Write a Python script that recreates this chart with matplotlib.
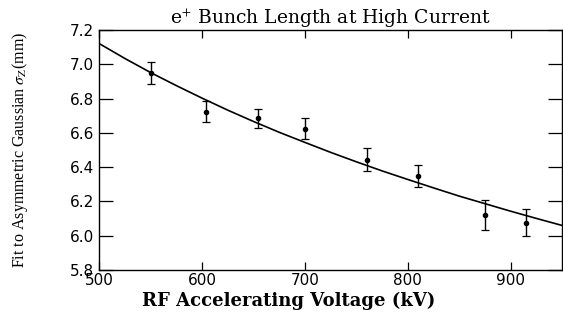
#!/usr/bin/env python3
"""e+ bunch length vs. RF accelerating voltage (high current)."""

import matplotlib
matplotlib.use("Agg")
import matplotlib.pyplot as plt

# measured points: RF voltage (kV), fitted sigma_z (mm), error (mm)
voltage_kv = [550, 604, 654, 700, 760, 810, 875, 915]
sigma_z_mm = [6.948, 6.724, 6.685, 6.624, 6.444, 6.349, 6.120, 6.077]
sigma_err = [0.065, 0.060, 0.055, 0.060, 0.068, 0.066, 0.086, 0.077]

# fit curve, every 25 kV
fit_kv = [500, 525, 550, 575, 600, 625, 650, 675, 700, 725,
          750, 775, 800, 825, 850, 875, 900, 925, 950]
fit_mm = [7.120, 7.033, 6.951, 6.875, 6.802, 6.732, 6.666, 6.603, 6.544, 6.486,
          6.431, 6.378, 6.328, 6.279, 6.231, 6.187, 6.143, 6.101, 6.060]

x_ticks = [500, 600, 700, 800, 900]
y_ticks = [5.8, 6.0, 6.2, 6.4, 6.6, 6.8, 7.0, 7.2]

plt.rcParams["mathtext.fontset"] = "stix"

fig = plt.figure(figsize=(5.63, 3.12), dpi=100)
ax = fig.add_axes([0.1767, 0.1346, 0.8216, 0.7692])

ax.plot(fit_kv, fit_mm, color="black", lw=1.2)
ax.errorbar(voltage_kv, sigma_z_mm, yerr=sigma_err, fmt="o", color="black",
            ms=3, elinewidth=1.0, capsize=3, capthick=0.9)

ax.set_xlim(500, 950)
ax.set_ylim(5.8, 7.2)
ax.set_xticks(x_ticks)
ax.set_yticks(y_ticks)
ax.set_yticklabels([f"{v:.1f}" for v in y_ticks])

ax.tick_params(axis="both", direction="in", top=True, right=True,
               labelsize=11, width=0.9, pad=4)
ax.tick_params(axis="x", length=6, pad=2)
ax.tick_params(axis="y", length=10)
for lab in ax.get_xticklabels() + ax.get_yticklabels():
    lab.set_family("DejaVu Sans")
for sp in ax.spines.values():
    sp.set_linewidth(1.0)

ax.set_title(r"e$^{+}$ Bunch Length at High Current", family="DejaVu Serif",
             fontsize=13.5, pad=4)
ax.set_xlabel("RF Accelerating Voltage (kV)", family="DejaVu Serif",
              fontsize=13, fontweight="bold")
ax.xaxis.set_label_coords(0.41, -0.09)
ax.set_ylabel(r"Fit to Asymmetric Gaussian $\sigma_{\mathrm{Z}}$(mm)",
              family="Liberation Serif", fontsize=11.5)
ax.yaxis.set_label_coords(-0.15, 0.5)

fig.savefig("out.png", dpi=100)
